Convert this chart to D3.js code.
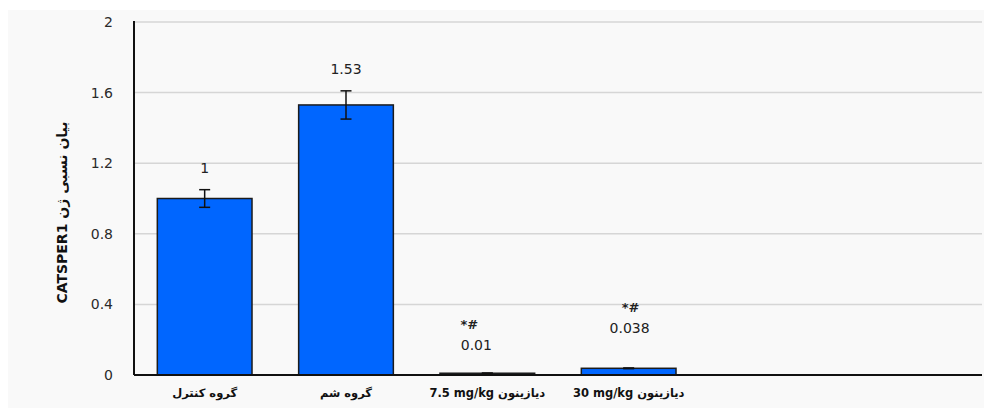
<!DOCTYPE html>
<html>
<head>
<meta charset="utf-8">
<script src="https://cdn.jsdelivr.net/npm/d3@7"></script>
<style>
  html, body { margin: 0; padding: 0; background: #ffffff; }
  svg { display: block; }
  text { font-family: "DejaVu Sans", Verdana, sans-serif; }
</style>
</head>
<body>
<svg id="chart" width="984" height="408"></svg>
<script>
// Relative CATSPER1 expression per group
const groups = ["گروه کنترل", "گروه شم", "دیازینون \u20667.5 mg/kg\u2069", "دیازینون \u206630 mg/kg\u2069", "", " "];
const values = [1, 1.53, 0.01, 0.038];
const errors = [0.05, 0.08, 0.001, 0.002];
const valueLabels = ["1", "1.53", "0.01", "0.038"];
const marks = ["", "", "*#", "*#"];
const yTicks = [0, 0.4, 0.8, 1.2, 1.6, 2];

// label placement tweaks (pixels)
const labelLift = [17, 17, 23, 35];
const labelShift = [0, 0, -11, 1];
const markShift = [0, 0, -18, 2];

const svg = d3.select("#chart");
const W = 984, H = 408;
const m = { left: 134, right: 2, top: 22, bottom: 33 };

svg.append("rect").attr("x", 8).attr("y", 10).attr("width", W - 8).attr("height", H - 10)
  .attr("fill", "#f9f9f9");

const x = d3.scaleBand().domain(groups).range([m.left, W - m.right]).paddingInner(0.33).paddingOuter(0.165);
const y = d3.scaleLinear().domain([0, 2]).range([H - m.bottom, m.top]);

// gridlines
svg.append("g").selectAll("line").data(yTicks.filter(d => d > 0)).join("line")
  .attr("x1", m.left).attr("x2", W - m.right)
  .attr("y1", d => y(d)).attr("y2", d => y(d))
  .attr("stroke", "#d6d6d6").attr("stroke-width", 1.5);

// y tick labels
const yAxis = d3.axisLeft(y).tickValues(yTicks).tickSize(0).tickPadding(21)
  .tickFormat(d => d3.format("")(d));
const gy = svg.append("g").attr("transform", `translate(${m.left},0)`).call(yAxis);
gy.select(".domain").remove();
gy.selectAll("text").attr("font-size", 14).attr("fill", "#2a2a2a")
  .attr("font-family", "DejaVu Sans, Verdana, sans-serif");

// bars
const bars = groups.slice(0, values.length).map((g, i) => ({ g, v: values[i], e: errors[i], i }));
svg.append("g").selectAll("rect").data(bars).join("rect")
  .attr("x", d => x(d.g)).attr("width", x.bandwidth())
  .attr("y", d => y(d.v)).attr("height", d => y(0) - y(d.v))
  .attr("fill", "#0066ff").attr("stroke", "#1c1c1c").attr("stroke-width", 1.5);

// error bars
const eg = svg.append("g").attr("stroke", "#111").attr("stroke-width", 1.5);
bars.forEach(d => {
  const cx = x(d.g) + x.bandwidth() / 2;
  eg.append("line").attr("x1", cx).attr("x2", cx).attr("y1", y(d.v - d.e)).attr("y2", y(d.v + d.e));
  [d.v - d.e, d.v + d.e].forEach(v => {
    eg.append("line").attr("x1", cx - 5.5).attr("x2", cx + 5.5).attr("y1", y(v)).attr("y2", y(v));
  });
});

// axes lines
svg.append("line").attr("x1", m.left).attr("x2", m.left).attr("y1", m.top - 1).attr("y2", y(0))
  .attr("stroke", "#111").attr("stroke-width", 2);
svg.append("line").attr("x1", m.left).attr("x2", W - m.right).attr("y1", y(0)).attr("y2", y(0))
  .attr("stroke", "#111").attr("stroke-width", 2);

// value labels and significance marks
bars.forEach(d => {
  const cx = x(d.g) + x.bandwidth() / 2;
  const base = y(d.v + d.e) - labelLift[d.i];
  svg.append("text").attr("x", cx + labelShift[d.i]).attr("y", base)
    .attr("text-anchor", "middle").attr("font-size", 14).attr("fill", "#222")
    .text(valueLabels[d.i]);
  if (marks[d.i]) {
    svg.append("text").attr("x", cx + markShift[d.i]).attr("y", base - 21)
      .attr("text-anchor", "middle").attr("font-size", 13).attr("fill", "#222")
      .attr("font-weight", "bold").text(marks[d.i]);
  }
});

// category labels
svg.append("g").selectAll("text").data(bars).join("text")
  .attr("x", d => x(d.g) + x.bandwidth() / 2).attr("y", 397)
  .attr("text-anchor", "middle").attr("direction", "rtl").attr("unicode-bidi", "embed")
  .attr("font-size", 11.5).attr("font-weight", "bold").attr("fill", "#111")
  .text(d => d.g);

// y-axis title
svg.append("text")
  .attr("transform", `translate(67,${(m.top + y(0)) / 2 + 14}) rotate(-90)`)
  .attr("text-anchor", "middle").attr("direction", "rtl").attr("unicode-bidi", "embed")
  .attr("font-size", 14).attr("font-weight", "bold").attr("fill", "#111")
  .text("بیان نسبی ژن CATSPER1");
</script>
</body>
</html>
